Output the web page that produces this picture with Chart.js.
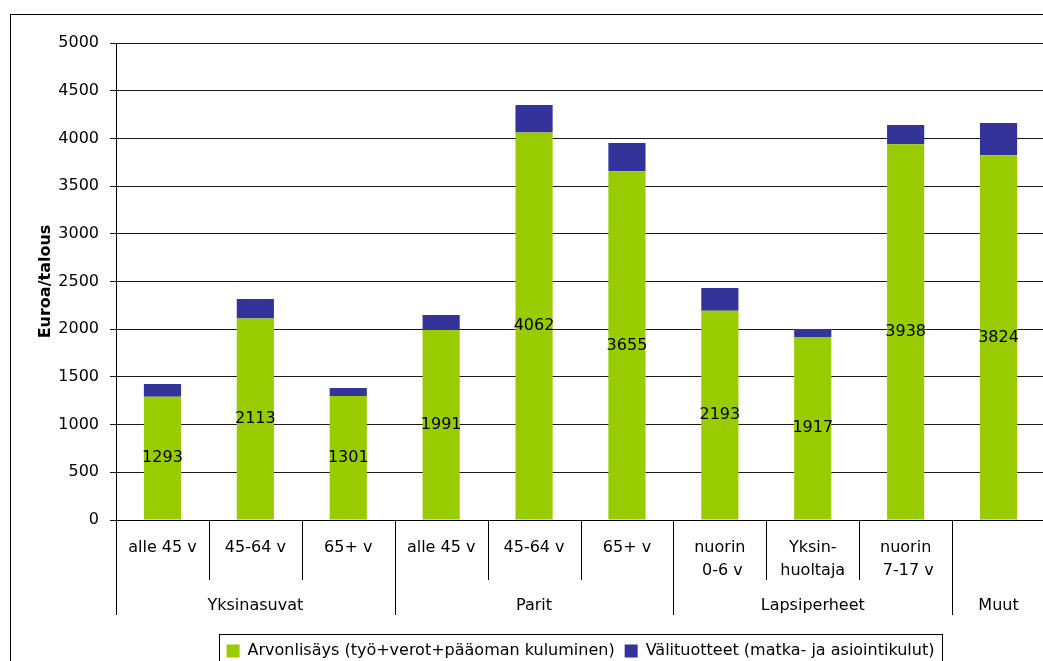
<!DOCTYPE html>
<html>
<head>
<meta charset="utf-8">
<script src="https://cdn.jsdelivr.net/npm/chart.js@4.4.1/dist/chart.umd.min.js"></script>
<style>
  html, body { margin: 0; padding: 0; background: #fff; overflow: hidden; }
  #wrap { position: absolute; left: 0; top: 0; width: 1060px; height: 680px; }
</style>
</head>
<body>
<div id="wrap"><canvas id="costChart"></canvas></div>
<script>
// categories (inner level) and groups (outer level)
var categories = ['alle 45 v', '45-64 v', '65+ v', 'alle 45 v', '45-64 v', '65+ v',
  ['nuorin', ' 0-6 v'], ['Yksin-', 'huoltaja'], ['nuorin', ' 7-17 v'], ''];
var groups = ['Yksinasuvat', 'Parit', 'Lapsiperheet', 'Muut'];
var groupSizes = [3, 3, 3, 1];

// series
var valueAdded = [1293, 2113, 1301, 1991, 4062, 3655, 2193, 1917, 3938, 3824];
var intermediate = [133, 204, 83, 158, 288, 297, 239, 85, 202, 337];
var seriesNames = ['Arvonlisäys (työ+verot+pääoman kuluminen)', 'Välituotteet (matka- ja asiointikulut)'];

// y axis
var yMin = 0;
var yMax = 5000;
var yStep = 500;
var yTitle = 'Euroa/talous';

Chart.defaults.font.family = 'DejaVu Sans';
Chart.defaults.font.size = 16;
Chart.defaults.color = '#000';

// frame, value labels, category dividers, group labels and legend border
var extras = {
  id: 'extras',
  beforeDraw: function (chart) {
    var ctx = chart.ctx;
    ctx.save();
    ctx.strokeStyle = '#000';
    ctx.lineWidth = 1;
    ctx.strokeRect(10.5, 14.5, 1200, 800);
    ctx.restore();
  },
  afterDatasetsDraw: function (chart) {
    var ctx = chart.ctx;
    var meta = chart.getDatasetMeta(0);
    ctx.save();
    ctx.font = '16px "DejaVu Sans"';
    ctx.fillStyle = '#000';
    ctx.textAlign = 'center';
    ctx.textBaseline = 'middle';
    meta.data.forEach(function (bar, i) {
      ctx.fillText(String(valueAdded[i]), bar.x, (bar.y + bar.base) / 2);
    });
    ctx.restore();
  },
  afterDraw: function (chart) {
    var ctx = chart.ctx;
    var x = chart.scales.x;
    var bottom = chart.chartArea.bottom;
    var n = categories.length;
    var half = (x.getPixelForValue(1) - x.getPixelForValue(0)) / 2;
    var edge = function (b) {
      return b < n ? x.getPixelForValue(b) - half : x.getPixelForValue(n - 1) + half;
    };

    // which boundaries start a new group
    var groupEdges = [0];
    var sum = 0;
    groupSizes.forEach(function (s) { sum += s; groupEdges.push(sum); });

    ctx.save();
    ctx.strokeStyle = '#000';
    ctx.lineWidth = 1;
    for (var b = 0; b <= n; b++) {
      var px = Math.round(edge(b)) + 0.5;
      var len = groupEdges.indexOf(b) >= 0 ? 95 : 60;
      ctx.beginPath();
      ctx.moveTo(px, bottom);
      ctx.lineTo(px, bottom + len);
      ctx.stroke();
    }

    // group labels
    ctx.font = '16px "DejaVu Sans"';
    ctx.fillStyle = '#000';
    ctx.textAlign = 'center';
    ctx.textBaseline = 'middle';
    for (var g = 0; g < groups.length; g++) {
      var cx = (edge(groupEdges[g]) + edge(groupEdges[g + 1])) / 2;
      ctx.fillText(groups[g], cx, bottom + 86);
    }

    // legend border
    var boxes = chart.legend.legendHitBoxes;
    if (boxes && boxes.length) {
      var first = boxes[0];
      var last = boxes[boxes.length - 1];
      var l = Math.round(first.left - 8) + 0.5;
      var r = Math.round(last.left + last.width + 8) + 0.5;
      var t = Math.round(first.top - 9) + 0.5;
      ctx.strokeRect(l, t, r - l, first.height + 18);
    }
    ctx.restore();
  }
};

var ctx = document.getElementById('costChart').getContext('2d');
var costChart = new Chart(ctx, {
  type: 'bar',
  data: {
    labels: categories,
    datasets: [{
      label: seriesNames[0],
      data: valueAdded,
      backgroundColor: '#99CC00',
      borderWidth: 0
    }, {
      label: seriesNames[1],
      data: intermediate,
      backgroundColor: '#333399',
      borderWidth: 0
    }]
  },
  options: {
    responsive: true,
    maintainAspectRatio: false,
    animation: false,
    datasets: {
      bar: { categoryPercentage: 1, barPercentage: 0.4 }
    },
    layout: { padding: { top: 43, left: 0, right: 15, bottom: 11 } },
    plugins: {
      tooltip: { enabled: false },
      legend: {
        position: 'bottom',
        fullSize: false,
        labels: { boxWidth: 13, boxHeight: 13, padding: 10, color: '#000', font: { size: 16 } }
      }
    },
    scales: {
      x: {
        stacked: true,
        grid: { drawOnChartArea: false, drawTicks: false },
        border: { display: true, color: '#000' },
        ticks: { padding: 16, maxRotation: 0, autoSkip: false, font: { size: 16, lineHeight: 1.45 } },
        afterFit: function (scale) { scale.height = 113; }
      },
      y: {
        stacked: true,
        min: yMin,
        max: yMax,
        ticks: {
          stepSize: yStep,
          padding: 11,
          font: { size: 16 },
          callback: function (value) { return String(value); }
        },
        grid: { color: '#1a1a1a', tickLength: 6 },
        border: { display: true, color: '#000' },
        title: {
          display: true,
          text: yTitle,
          font: { size: 16, weight: 'bold' },
          padding: { top: 36, bottom: 0 }
        },
        afterFit: function (scale) { scale.width = 116; }
      }
    }
  },
  plugins: [extras]
});
</script>
</body>
</html>
